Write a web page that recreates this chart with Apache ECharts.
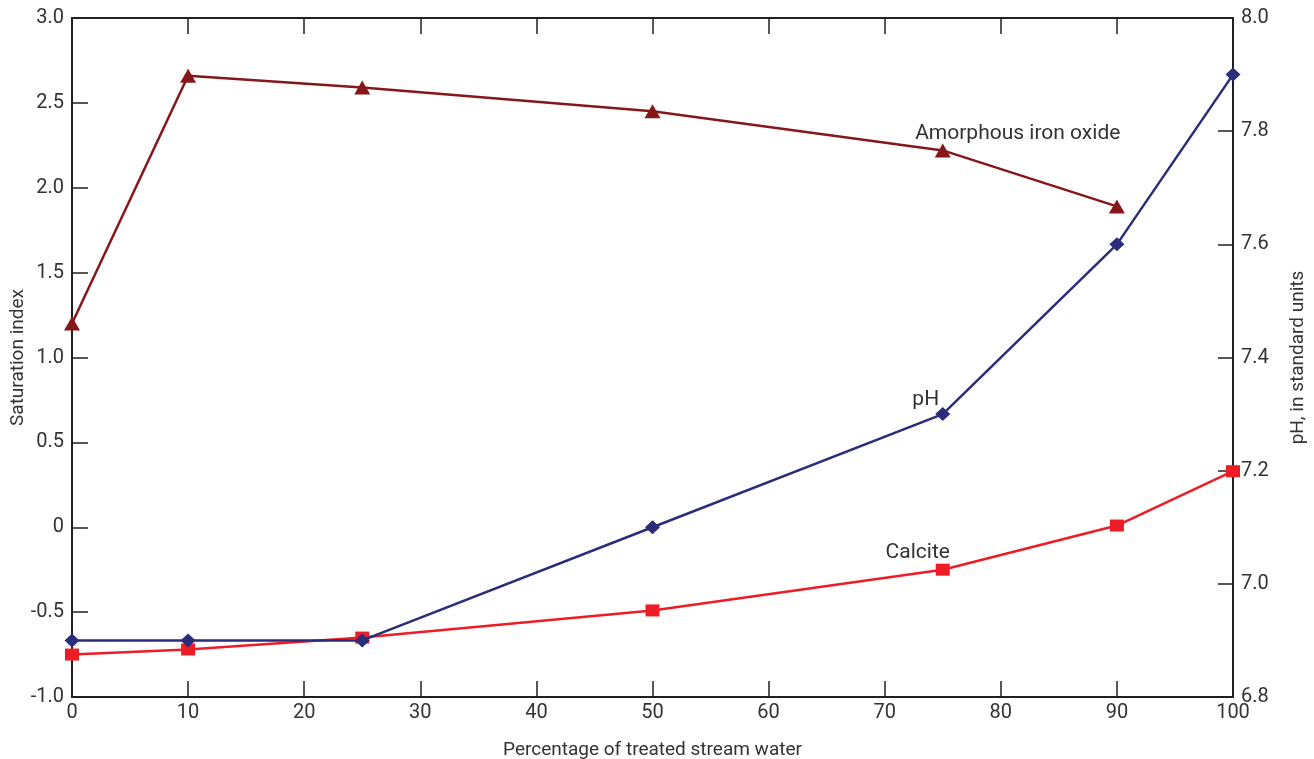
<!DOCTYPE html>
<html>
<head>
<meta charset="utf-8">
<script src="https://cdn.jsdelivr.net/npm/echarts@6/dist/echarts.min.js"></script>
<style>
  html, body { margin: 0; padding: 0; background: #fff; }
  #chart { width: 1314px; height: 759px; }
</style>
</head>
<body>
<div id="chart"></div>
<script>
// Mixing percentages of treated stream water
const percent = [0, 10, 25, 50, 75, 90, 100];
// Saturation indices (left axis)
const ironOxide = [1.20, 2.66, 2.59, 2.45, 2.22, 1.89];
const ironOxidePct = [0, 10, 25, 50, 75, 90];
const calcite = [-0.75, -0.72, -0.65, -0.49, -0.25, 0.01, 0.33];
// pH (right axis)
const pH = [6.90, 6.90, 6.90, 7.10, 7.30, 7.60, 7.90];

const FONT = "'Roboto', sans-serif";
const TEXT = '#333';
const AXIS = '#231f20';

function pairs(xs, ys, labelIdx, label) {
  return ys.map((y, i) => {
    const item = { value: [xs[i], y] };
    if (i === labelIdx) item.label = Object.assign({ show: true }, label);
    return item;
  });
}

const labelBase = { color: TEXT, fontFamily: FONT, fontSize: 21 };

const chart = echarts.init(document.getElementById('chart'), null, { renderer: 'canvas' });
chart.setOption({
  animation: false,
  backgroundColor: '#fff',
  grid: { left: 72, right: 81, top: 18, bottom: 62, containLabel: false, outerBoundsMode: 'none' },
  xAxis: [{
    type: 'value', min: 0, max: 100, interval: 10, position: 'bottom',
    name: 'Percentage of treated stream water', nameLocation: 'middle', nameGap: 44,
    nameMoveOverlap: false,
    nameTextStyle: { color: TEXT, fontFamily: FONT, fontSize: 19 },
    axisLine: { onZero: false, lineStyle: { color: AXIS, width: 2 } },
    axisTick: { inside: true, length: 16, lineStyle: { color: AXIS, width: 1.5 } },
    axisLabel: { color: TEXT, fontFamily: FONT, fontSize: 20, margin: 6 },
    splitLine: { show: false }
  }, {
    type: 'value', min: 0, max: 100, interval: 10, position: 'top',
    axisLine: { onZero: false, lineStyle: { color: AXIS, width: 2 } },
    axisTick: { inside: true, length: 16, lineStyle: { color: AXIS, width: 1.5 } },
    axisLabel: { show: false },
    splitLine: { show: false }
  }],
  yAxis: [{
    type: 'value', min: -1, max: 3, interval: 0.5, position: 'left',
    name: 'Saturation index', nameLocation: 'middle', nameGap: 44, nameRotate: 90,
    nameMoveOverlap: false,
    nameTextStyle: { color: TEXT, fontFamily: FONT, fontSize: 19 },
    axisLine: { show: true, onZero: false, lineStyle: { color: AXIS, width: 2 } },
    axisTick: { show: true, inside: true, length: 16, lineStyle: { color: AXIS, width: 1.5 } },
    axisLabel: { color: TEXT, fontFamily: FONT, fontSize: 20, margin: 8,
      formatter: v => (v === 0 ? '0' : v.toFixed(1)) },
    splitLine: { show: false }
  }, {
    type: 'value', min: 6.8, max: 8.0, interval: 0.2, position: 'right',
    name: 'pH, in standard units', nameLocation: 'middle', nameGap: 56, nameRotate: 90,
    nameMoveOverlap: false,
    nameTextStyle: { color: TEXT, fontFamily: FONT, fontSize: 19 },
    axisLine: { show: true, onZero: false, lineStyle: { color: AXIS, width: 2 } },
    axisTick: { show: true, inside: true, length: 15, lineStyle: { color: AXIS, width: 1.5 } },
    axisLabel: { color: TEXT, fontFamily: FONT, fontSize: 20, margin: 8,
      formatter: v => v.toFixed(1) },
    splitLine: { show: false }
  }],
  series: [{
    name: 'Amorphous iron oxide', type: 'line', xAxisIndex: 0, yAxisIndex: 0,
    data: pairs(ironOxidePct, ironOxide, 4,
      Object.assign({ position: 'top', offset: [75, 6], formatter: 'Amorphous iron oxide' }, labelBase)),
    symbol: 'triangle', symbolSize: [16, 14],
    lineStyle: { color: '#861719', width: 2.5 },
    itemStyle: { color: '#861719' },
    z: 3
  }, {
    name: 'pH', type: 'line', xAxisIndex: 0, yAxisIndex: 1,
    data: pairs(percent, pH, 4,
      Object.assign({ position: 'top', offset: [-17, 8], formatter: 'pH' }, labelBase)),
    symbol: 'diamond', symbolSize: [15, 14],
    lineStyle: { color: '#2b2d7a', width: 2.5 },
    itemStyle: { color: '#2b2d7a' },
    z: 4
  }, {
    name: 'Calcite', type: 'line', xAxisIndex: 0, yAxisIndex: 0,
    data: pairs(percent, calcite, 4,
      Object.assign({ position: 'top', offset: [-25, 5], formatter: 'Calcite' }, labelBase)),
    symbol: 'rect', symbolSize: [14, 12],
    lineStyle: { color: '#ee1c25', width: 2.5 },
    itemStyle: { color: '#ee1c25' },
    z: 3
  }]
});
</script>
</body>
</html>
